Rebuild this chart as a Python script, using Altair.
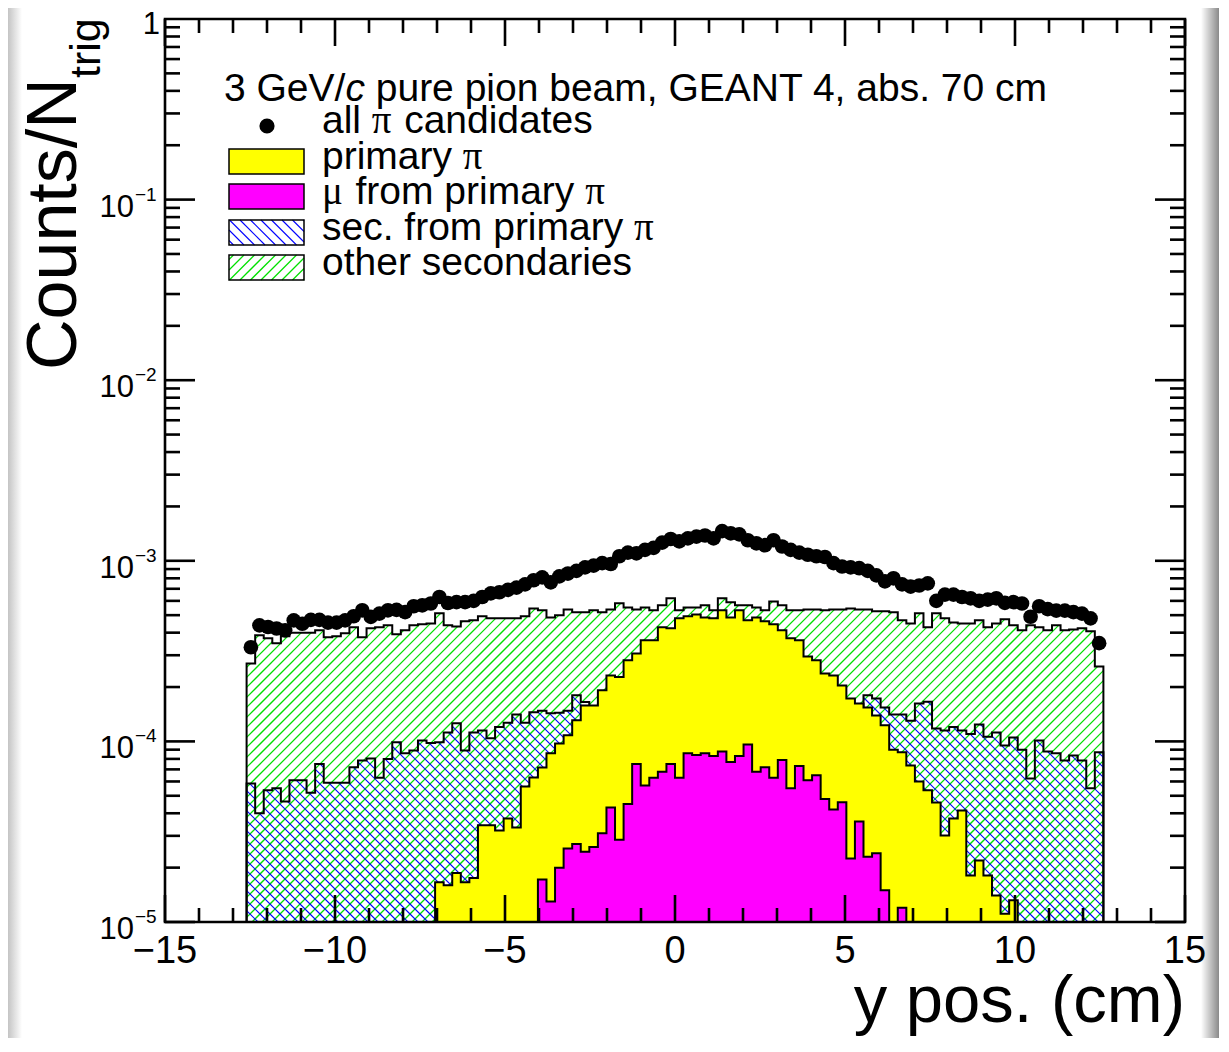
import math
import altair as alt
import pandas as pd

# ---------------- axis ranges / binning ----------------
X_MIN, X_MAX = -15.0, 15.0
Y_MIN, Y_MAX = 1e-5, 1.0
HIST_LO, HIST_HI, NBINS = -12.6, 12.6, 100

# ---------------- data (one value per bin) ----------------
all_pi = [
    3.32e-4, 4.39e-4, 4.3e-4, 4.22e-4, 4.12e-4, 4.68e-4, 4.48e-4, 4.71e-4, 4.71e-4, 4.55e-4,
    4.55e-4, 4.68e-4, 4.93e-4, 5.32e-4, 4.89e-4, 5.1e-4, 5.32e-4, 5.35e-4, 5.2e-4, 5.6e-4,
    5.67e-4, 5.8e-4, 6.3e-4, 5.84e-4, 5.9e-4,
    5.9e-4, 6.0e-4, 6.3e-4, 6.6e-4, 6.7e-4, 6.9e-4, 7.1e-4, 7.4e-4, 7.8e-4, 8.1e-4,
    7.6e-4, 8.2e-4, 8.5e-4, 8.8e-4, 9.2e-4, 9.4e-4, 9.7e-4, 9.6e-4, 1.06e-3, 1.11e-3,
    1.1e-3, 1.15e-3, 1.18e-3, 1.26e-3, 1.32e-3,
    1.28e-3, 1.33e-3, 1.36e-3, 1.38e-3, 1.33e-3, 1.46e-3, 1.42e-3, 1.4e-3, 1.3e-3, 1.25e-3,
    1.22e-3, 1.3e-3, 1.2e-3, 1.15e-3, 1.11e-3, 1.08e-3, 1.06e-3, 1.05e-3, 9.7e-4, 9.3e-4,
    9.2e-4, 9.1e-4, 8.8e-4, 8.3e-4, 7.7e-4,
    8.0e-4, 7.4e-4, 7.2e-4, 7.3e-4, 7.5e-4, 6.0e-4, 6.5e-4, 6.5e-4, 6.3e-4, 6.2e-4,
    6.0e-4, 6.1e-4, 6.2e-4, 5.85e-4, 5.9e-4, 5.8e-4, 4.9e-4, 5.6e-4, 5.4e-4, 5.3e-4,
    5.3e-4, 5.2e-4, 5.1e-4, 4.8e-4, 3.5e-4,
]

other_secondaries = [
    2.7e-4, 3.87e-4, 3.72e-4, 3.49e-4, 3.82e-4, 4.0e-4, 4.0e-4, 4.0e-4, 4.12e-4, 3.77e-4,
    3.82e-4, 3.97e-4, 4.28e-4, 3.77e-4, 4.23e-4, 4.28e-4, 4.39e-4, 3.92e-4, 4.12e-4, 4.39e-4,
    4.45e-4, 4.5e-4, 5.12e-4, 4.39e-4, 4.33e-4,
    4.62e-4, 4.68e-4, 4.93e-4, 4.8e-4, 4.8e-4, 4.8e-4, 4.8e-4, 4.93e-4, 5.45e-4, 5.32e-4,
    4.86e-4, 4.99e-4, 5.38e-4, 5.19e-4, 5.19e-4, 5.32e-4, 5.19e-4, 5.38e-4, 5.82e-4, 5.52e-4,
    5.38e-4, 5.52e-4, 5.32e-4, 5.67e-4, 6.2e-4,
    5.32e-4, 5.52e-4, 5.52e-4, 5.67e-4, 5.32e-4, 6.2e-4, 5.9e-4, 5.67e-4, 5.67e-4, 5.52e-4,
    5.32e-4, 5.96e-4, 5.67e-4, 5.32e-4, 5.32e-4, 5.38e-4, 5.38e-4, 5.32e-4, 5.38e-4, 5.38e-4,
    5.45e-4, 5.38e-4, 5.38e-4, 5.25e-4, 5.25e-4,
    5.19e-4, 4.68e-4, 4.5e-4, 5.12e-4, 4.28e-4, 5.12e-4, 4.8e-4, 4.56e-4, 4.5e-4, 4.5e-4,
    4.68e-4, 4.28e-4, 4.5e-4, 4.74e-4, 4.39e-4, 4.12e-4, 4.39e-4, 4.28e-4, 4.12e-4, 4.39e-4,
    4.12e-4, 4.17e-4, 4.23e-4, 4.07e-4, 2.6e-4,
]

sec_from_primary = [
    5.85e-5, 4.0e-5, 5.36e-5, 5.5e-5, 4.65e-5, 6.1e-5, 6.1e-5, 5.2e-5, 7.5e-5, 5.9e-5,
    5.9e-5, 5.9e-5, 7.2e-5, 7.85e-5, 8.05e-5, 6.3e-5, 8.0e-5, 9.9e-5, 8.6e-5, 8.9e-5,
    1.01e-4, 9.8e-5, 9.9e-5, 1.12e-4, 1.26e-4,
    8.9e-5, 1.12e-4, 1.15e-4, 1.04e-4, 1.2e-4, 1.27e-4, 1.41e-4, 1.27e-4, 1.45e-4, 1.48e-4,
    1.43e-4, 1.44e-4, 1.48e-4, 1.8e-4, 1.65e-4, 1.5e-4, 1.6e-4, 1.72e-4, 1.7e-4, 1.82e-4,
    1.88e-4, 1.85e-4, 1.95e-4, 2.02e-4, 1.98e-4,
    2.06e-4, 2.1e-4, 2.04e-4, 2.12e-4, 2.08e-4, 2.1e-4, 2.14e-4, 2.05e-4, 2.08e-4, 2.0e-4,
    2.02e-4, 1.96e-4, 1.98e-4, 1.9e-4, 1.92e-4, 1.86e-4, 1.8e-4, 1.82e-4, 1.74e-4, 1.7e-4,
    1.6e-4, 1.55e-4, 1.8e-4, 1.73e-4, 1.54e-4,
    1.41e-4, 1.41e-4, 1.3e-4, 1.62e-4, 1.66e-4, 1.18e-4, 1.15e-4, 1.2e-4, 1.15e-4, 1.1e-4,
    1.24e-4, 1.06e-4, 1.12e-4, 9.5e-5, 1.05e-4, 9.0e-5, 6.24e-5, 1.01e-4, 8.8e-5, 8.6e-5,
    7.85e-5, 8.36e-5, 7.85e-5, 5.5e-5, 8.7e-5,
]

primary_pi = [0.0] * 22 + [
    1.66e-5, 1.6e-5, 1.87e-5,
    1.66e-5, 1.75e-5, 3.43e-5, 3.43e-5, 3.21e-5, 3.74e-5, 3.34e-5, 5.63e-5, 6.32e-5, 7.18e-5,
    8.59e-5, 9.75e-5, 1.08e-4, 1.31e-4, 1.58e-4, 1.58e-4, 1.92e-4, 2.32e-4, 2.27e-4, 2.81e-4,
    3.07e-4, 3.63e-4, 3.63e-4, 4.28e-4, 4.23e-4,
    4.8e-4, 4.93e-4, 5.05e-4, 4.86e-4, 4.8e-4, 5.32e-4, 4.86e-4, 5.32e-4, 4.68e-4, 4.86e-4,
    4.62e-4, 4.45e-4, 4.12e-4, 3.72e-4, 3.63e-4, 2.95e-4, 2.81e-4, 2.38e-4, 2.32e-4, 2.04e-4,
    1.73e-4, 1.62e-4, 1.54e-4, 1.39e-4, 1.23e-4,
    9.0e-5, 8.7e-5, 7.36e-5, 6.0e-5, 5.36e-5, 4.59e-5, 3.01e-5, 3.74e-5, 4.15e-5, 1.81e-5,
    2.19e-5, 1.81e-5, 1.4e-5, 1.11e-5, 1.32e-5,
] + [0.0] * 10

mu_from_primary = [0.0] * 34 + [
    1.72e-5, 1.3e-5, 2.0e-5, 2.55e-5, 2.7e-5, 2.45e-5, 2.6e-5, 3.1e-5, 4.3e-5, 2.85e-5, 4.5e-5,
    7.5e-5, 5.7e-5, 6.3e-5, 6.8e-5, 7.5e-5, 6.3e-5, 8.6e-5, 8.4e-5, 8.6e-5, 8.3e-5,
    8.8e-5, 7.7e-5, 8.3e-5, 9.6e-5, 6.8e-5, 7.2e-5, 6.3e-5, 7.9e-5, 5.5e-5, 7.3e-5,
    6.1e-5, 6.5e-5, 4.8e-5, 4.2e-5, 4.6e-5, 2.25e-5, 3.6e-5, 2.3e-5, 2.4e-5,
    1.5e-5, 0.0, 1.2e-5,
] + [0.0] * 23

# tick positions and labels
x_major = [-15, -10, -5, 0, 5, 10, 15]
x_labels = ["\u221215", "\u221210", "\u22125", "0", "5", "10", "15"]
x_minor = [v for v in range(-15, 16) if v % 5 != 0]
y_major = [1e-5, 1e-4, 1e-3, 1e-2, 1e-1]
y_exp = ["\u22125", "\u22124", "\u22123", "\u22122", "\u22121"]
y_minor = [m * 10.0 ** k for k in range(-5, 0) for m in range(2, 10)]

legend_header = ["3 GeV/", "c", "pure pion beam, GEANT 4, abs. 70 cm"]
legend_labels = ["all", "candidates", "primary", "from primary", "sec. from primary", "other secondaries"]

# ---------------- layout ----------------
W, H = 1020, 903
SANS = "Liberation Sans"
SERIF = "Liberation Serif"
GREEN = "#00e000"
BLUE = "#0000ff"
YELLOW = "#ffff00"
MAGENTA = "#ff00ff"
HATCH_SP = 10.0

HELV = {' ': 278, 'a': 556, 'b': 556, 'c': 500, 'd': 556, 'e': 556, 'f': 278, 'g': 556,
        'h': 556, 'i': 222, 'l': 222, 'm': 833, 'n': 556, 'o': 556, 'p': 556, 'r': 333,
        's': 500, 't': 278, 'u': 556, 'y': 500, '.': 278, ',': 278, '/': 278,
        'G': 778, 'V': 667, 'E': 667, 'A': 667, 'N': 722, 'T': 611}


def tw(s, size):
    return sum(HELV.get(ch, 556) for ch in s) / 1000.0 * size


LOG_MAX, LOG_MIN = math.log10(Y_MAX), math.log10(Y_MIN)


def px(x):
    return (x - X_MIN) / (X_MAX - X_MIN) * W


def py(v):
    return (LOG_MAX - math.log10(v)) / (LOG_MAX - LOG_MIN) * H


def inv_x(X):
    return X_MIN + X / W * (X_MAX - X_MIN)


def inv_y(Y):
    return 10 ** (LOG_MAX - Y / H * (LOG_MAX - LOG_MIN))


edges = [HIST_LO + (HIST_HI - HIST_LO) * i / NBINS for i in range(NBINS + 1)]
centers = [(edges[i] + edges[i + 1]) / 2 for i in range(NBINS)]


def hist_frame(vals):
    nz = [i for i, v in enumerate(vals) if v > 0]
    i0, i1 = nz[0], nz[-1]
    xs = edges[i0:i1 + 2]
    vs = [max(v, Y_MIN) for v in vals[i0:i1 + 1]] + [max(vals[i1], Y_MIN)]
    return pd.DataFrame({"x": xs, "v": vs})


def hist_rects(vals):
    return [(px(edges[i]), px(edges[i + 1]), py(v), H) for i, v in enumerate(vals) if v > Y_MIN]


def hatch_rules(rects, direction, spacing=HATCH_SP):
    """ROOT-like hatch lines clipped to a union of column rectangles (pixel space),
    returned in data coordinates so they go through the chart scales."""
    xl0 = min(r[0] for r in rects)
    xr1 = max(r[1] for r in rects)
    t0 = min(r[2] for r in rects)
    b1 = max(r[3] for r in rects)
    if direction == "/":
        cmin, cmax = xl0 + t0, xr1 + b1
    else:
        cmin, cmax = xl0 - b1, xr1 - t0
    rows = []
    for k in range(int(math.floor(cmin / spacing)), int(math.ceil(cmax / spacing)) + 1):
        c = k * spacing
        segs = []
        cur = None
        for (xl, xr, top, bot) in rects:
            if direction == "/":
                lo, hi = max(xl, c - bot), min(xr, c - top)
            else:
                lo, hi = max(xl, c + top), min(xr, c + bot)
            if hi - lo > 1e-6:
                if cur is not None and abs(cur[1] - lo) < 1e-6:
                    cur[1] = hi
                else:
                    if cur is not None:
                        segs.append(cur)
                    cur = [lo, hi]
            else:
                if cur is not None:
                    segs.append(cur)
                    cur = None
        if cur is not None:
            segs.append(cur)
        for lo, hi in segs:
            if direction == "/":
                y_lo, y_hi = c - lo, c - hi
            else:
                y_lo, y_hi = lo - c, hi - c
            rows.append({"x": inv_x(lo), "x2": inv_x(hi), "v": inv_y(y_lo), "v2": inv_y(y_hi)})
    return pd.DataFrame(rows)


xs_scale = alt.Scale(domain=[X_MIN, X_MAX], nice=False, zero=False)
ys_scale = alt.Scale(type="log", domain=[Y_MIN, Y_MAX], nice=False)
dummy = pd.DataFrame({"d": [0]})


def rule_layer(df, color, width=1.0):
    return alt.Chart(df).mark_rule(color=color, strokeWidth=width, strokeCap="butt",
                                   opacity=1).encode(
        x=alt.X("x:Q", scale=xs_scale, axis=None), x2="x2:Q",
        y=alt.Y("v:Q", scale=ys_scale, axis=None), y2="v2:Q")


def area_layer(df, fill=None):
    kw = dict(interpolate="step-after", stroke="black", strokeWidth=2, strokeJoin="miter")
    if fill is None:
        kw.update(fill="white", fillOpacity=0)
    else:
        kw.update(fill=fill, fillOpacity=1)
    return alt.Chart(df).mark_area(**kw).encode(
        x=alt.X("x:Q", scale=xs_scale, axis=None),
        y=alt.Y("v:Q", scale=ys_scale, axis=None),
        y2=alt.datum(Y_MIN),
    )


def text_at(text, x, y, size, family=SANS, align="left", style="normal", angle=0):
    kw = dict(text=text, align=align, baseline="alphabetic", font=family, fontSize=size,
              fontStyle=style, color="black")
    if angle:
        kw["angle"] = angle
    return alt.Chart(dummy).mark_text(**kw).encode(x=alt.value(x), y=alt.value(y))


def rect_at(x, x2, y, y2, fill="white", opacity=1.0, sw=1.5):
    return alt.Chart(dummy).mark_rect(fill=fill, fillOpacity=opacity, stroke="black",
                                      strokeWidth=sw).encode(
        x=alt.value(x), x2=alt.value(x2), y=alt.value(y), y2=alt.value(y2))


layers = []

# decorative page shadow strips
layers.append(alt.Chart(dummy).mark_rect(
    fill={"gradient": "linear", "x1": 0, "y1": 0, "x2": 1, "y2": 0,
          "stops": [{"offset": 0, "color": "#c4c4c4"}, {"offset": 1, "color": "#ffffff"}]}
).encode(x=alt.value(-157), x2=alt.value(-143), y=alt.value(-11), y2=alt.value(H + 116)))
layers.append(alt.Chart(dummy).mark_rect(
    fill={"gradient": "linear", "x1": 0, "y1": 0, "x2": 1, "y2": 0,
          "stops": [{"offset": 0, "color": "#ffffff"}, {"offset": 1, "color": "#8a8a8a"}]}
).encode(x=alt.value(W + 16), x2=alt.value(W + 34), y=alt.value(-11), y2=alt.value(H + 116)))

# histograms (overlaid, ROOT drawing order): hatch, outline, next ...
layers.append(rule_layer(hatch_rules(hist_rects(other_secondaries), "/"), GREEN, 1.25))
layers.append(area_layer(hist_frame(other_secondaries)))
layers.append(rule_layer(hatch_rules(hist_rects(sec_from_primary), "\\"), BLUE, 1.1))
layers.append(area_layer(hist_frame(sec_from_primary)))
layers.append(area_layer(hist_frame(primary_pi), YELLOW))
layers.append(area_layer(hist_frame(mu_from_primary), MAGENTA))

# points
pts = pd.DataFrame({"x": centers, "v": all_pi})
layers.append(alt.Chart(pts).mark_circle(size=215, color="black", opacity=1).encode(
    x=alt.X("x:Q", scale=xs_scale, axis=None),
    y=alt.Y("v:Q", scale=ys_scale, axis=None)))

# ticks (ROOT style, inward on all four sides)
TW = 2.6
xmaj = pd.DataFrame({"t": x_major, "lab": x_labels})
xmin = pd.DataFrame({"t": x_minor})
ymaj = pd.DataFrame({"t": y_major, "e": y_exp})
ymin = pd.DataFrame({"t": y_minor})


def xticks(df, length):
    enc_x = alt.X("t:Q", scale=xs_scale, axis=None)
    bot = alt.Chart(df).mark_rule(color="black", strokeWidth=TW).encode(
        x=enc_x, y=alt.value(H), y2=alt.value(H - length))
    top = alt.Chart(df).mark_rule(color="black", strokeWidth=TW).encode(
        x=enc_x, y=alt.value(0), y2=alt.value(length))
    return [bot, top]


def yticks(df, length):
    enc_y = alt.Y("t:Q", scale=ys_scale, axis=None)
    left = alt.Chart(df).mark_rule(color="black", strokeWidth=TW).encode(
        y=enc_y, x=alt.value(0), x2=alt.value(length))
    right = alt.Chart(df).mark_rule(color="black", strokeWidth=TW).encode(
        y=enc_y, x=alt.value(W), x2=alt.value(W - length))
    return [left, right]


layers += xticks(xmaj, 27) + xticks(xmin, 14)
layers += yticks(ymaj, 30) + yticks(ymin, 15)

# tick labels
layers.append(alt.Chart(xmaj).mark_text(
    align="center", baseline="alphabetic", font=SANS, fontSize=38, color="black"
).encode(x=alt.X("t:Q", scale=xs_scale, axis=None), y=alt.value(H + 41), text="lab:N"))
layers.append(alt.Chart(ymaj).mark_text(
    align="right", baseline="alphabetic", font=SANS, fontSize=31, color="black", dx=-31, dy=17
).encode(y=alt.Y("t:Q", scale=ys_scale, axis=None), x=alt.value(0), text=alt.value("10")))
layers.append(alt.Chart(ymaj).mark_text(
    align="left", baseline="alphabetic", font=SANS, fontSize=19, color="black", dx=-30, dy=1
).encode(y=alt.Y("t:Q", scale=ys_scale, axis=None), x=alt.value(0), text="e:N"))
layers.append(text_at("1", -5, 15, 31, align="right"))

# axis titles
layers.append(text_at("Counts/N", -89, 351, 70, angle=270))
layers.append(text_at("trig", -65, 59, 43, angle=270))
layers.append(text_at("y pos. (cm)", W, 1003, 67, align="right"))

# legend
HS = 39
hx = 59
layers.append(text_at(legend_header[0], hx, 82, HS))
hx += tw(legend_header[0], HS)
layers.append(text_at(legend_header[1], hx, 82, HS, style="italic"))
hx += tw("c ", HS)
layers.append(text_at(legend_header[2], hx, 82, HS))

ES = 39
LX = 157
PI_W = 0.55 * ES
MU_W = 0.58 * ES
SP = tw(" ", ES)
rows_base = [114, 150, 185, 221, 256]

x = LX
layers.append(text_at(legend_labels[0], x, rows_base[0], ES))
x += tw(legend_labels[0], ES) + SP
layers.append(text_at("\u03c0", x, rows_base[0], ES, family=SERIF))
x += PI_W + SP
layers.append(text_at(legend_labels[1], x, rows_base[0], ES))

x = LX
layers.append(text_at(legend_labels[2], x, rows_base[1], ES))
x += tw(legend_labels[2], ES) + SP
layers.append(text_at("\u03c0", x, rows_base[1], ES, family=SERIF))

x = LX
layers.append(text_at("\u03bc", x, rows_base[2], ES, family=SERIF))
x += MU_W + SP
layers.append(text_at(legend_labels[3], x, rows_base[2], ES))
x += tw(legend_labels[3], ES) + SP
layers.append(text_at("\u03c0", x, rows_base[2], ES, family=SERIF))

x = LX
layers.append(text_at(legend_labels[4], x, rows_base[3], ES))
x += tw(legend_labels[4], ES) + SP
layers.append(text_at("\u03c0", x, rows_base[3], ES, family=SERIF))

layers.append(text_at(legend_labels[5], LX, rows_base[4], ES))

# legend symbols
layers.append(alt.Chart(dummy).mark_circle(size=230, color="black", opacity=1).encode(
    x=alt.value(102), y=alt.value(107)))
layers.append(rect_at(64, 139, 130, 155, YELLOW))
layers.append(rect_at(64, 139, 165, 190, MAGENTA))
layers.append(rule_layer(hatch_rules([(64, 139, 201, 226)], "\\", spacing=10.5), BLUE, 1.1))
layers.append(rect_at(64, 139, 201, 226, opacity=0))
layers.append(rule_layer(hatch_rules([(64, 139, 236, 261)], "/", spacing=10.5), GREEN, 1.25))
layers.append(rect_at(64, 139, 236, 261, opacity=0))

# frame on top
layers.append(alt.Chart(dummy).mark_rect(fillOpacity=0, stroke="black", strokeWidth=2.6).encode(
    x=alt.value(0), x2=alt.value(W), y=alt.value(0), y2=alt.value(H)))

chart = alt.layer(*layers).properties(
    width=W, height=H,
    padding={"left": 157, "top": 11, "right": 34, "bottom": 116},
    autosize=alt.AutoSizeParams(type="none"),
    background="white",
).configure_view(strokeWidth=0)

chart.save("out.html", embed_options={"renderer": "svg", "actions": False})
